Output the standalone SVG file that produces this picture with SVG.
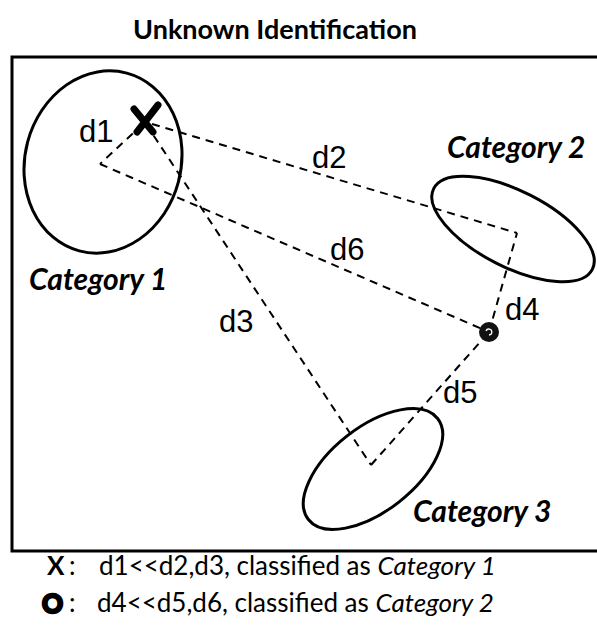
<svg xmlns="http://www.w3.org/2000/svg" width="597" height="630" viewBox="0 0 597 630">
<style>
.title{font-family:Lato,"Open Sans","Liberation Sans",sans-serif;font-weight:bold;font-size:27px;fill:#000}
.dl{font-family:"Liberation Sans",Arial,sans-serif;font-size:31px;fill:#000}
.cat{font-family:Lato,"Open Sans","Liberation Sans",sans-serif;font-style:italic;font-weight:bold;font-size:30px;fill:#000}
.leg{font-family:Lato,"Open Sans","Liberation Sans",sans-serif;font-size:26px;fill:#000}
.ell{fill:none;stroke:#000;stroke-width:3}
.dash{fill:none;stroke:#000;stroke-width:2;stroke-dasharray:8 6}
</style>
<rect x="0" y="0" width="597" height="630" fill="#fff"/>
<text class="title" x="275" y="39" text-anchor="middle">Unknown Identification</text>
<rect x="12" y="57" width="600" height="494" fill="none" stroke="#000" stroke-width="3"/>
<g id="connectors">
<line class="dash" x1="143" y1="124" x2="100" y2="164"/>
<line class="dash" x1="152" y1="124" x2="517" y2="233"/>
<line class="dash" x1="100" y1="164" x2="489" y2="332"/>
<line class="dash" x1="146" y1="124" x2="371" y2="465"/>
<line class="dash" x1="489" y1="332" x2="517" y2="233"/>
<line class="dash" x1="371" y1="465" x2="489" y2="332"/>
</g>
<g id="category1">
<ellipse class="ell" cx="103" cy="162" rx="78" ry="92" transform="rotate(15 103 162)"/>
<text class="cat" x="29" y="290">Category 1</text>
</g>
<g id="category2">
<ellipse class="ell" cx="513" cy="229" rx="89" ry="38" transform="rotate(27 513 229)"/>
<text class="cat" x="447" y="158">Category 2</text>
</g>
<g id="category3">
<ellipse class="ell" cx="373" cy="469" rx="82" ry="42" transform="rotate(-38 373 469)"/>
<text class="cat" x="413" y="522">Category 3</text>
</g>
<g id="markerX">
<path d="M134 109 L153 132 M158 105 L137 132" stroke="#000" stroke-width="7" stroke-linecap="round" fill="none"/>
</g>
<g id="markerO">
<circle cx="489" cy="332" r="10" fill="#111"/>
<path d="M486 331 A3 3 0 1 1 489 335" stroke="#fff" stroke-width="1.3" fill="none"/>
</g>
<g id="labels">
<text class="dl" x="79" y="142">d1</text>
<text class="dl" x="312" y="168">d2</text>
<text class="dl" x="330" y="260">d6</text>
<text class="dl" x="219" y="332">d3</text>
<text class="dl" x="505" y="320">d4</text>
<text class="dl" x="443" y="403">d5</text>
</g>
<g id="legend">
<text class="leg" x="47" y="575" font-weight="bold" font-size="28">X</text>
<text class="leg" x="69" y="575">:</text>
<text class="leg" x="99" y="575">d1&lt;&lt;d2,d3, classified as <tspan font-style="italic">Category 1</tspan></text>
<text class="leg" x="42" y="613" font-weight="bold" font-size="30" stroke="#000" stroke-width="2.5">O</text>
<text class="leg" x="69" y="612">:</text>
<text class="leg" x="97" y="612">d4&lt;&lt;d5,d6, classified as <tspan font-style="italic">Category 2</tspan></text>
</g>
</svg>
